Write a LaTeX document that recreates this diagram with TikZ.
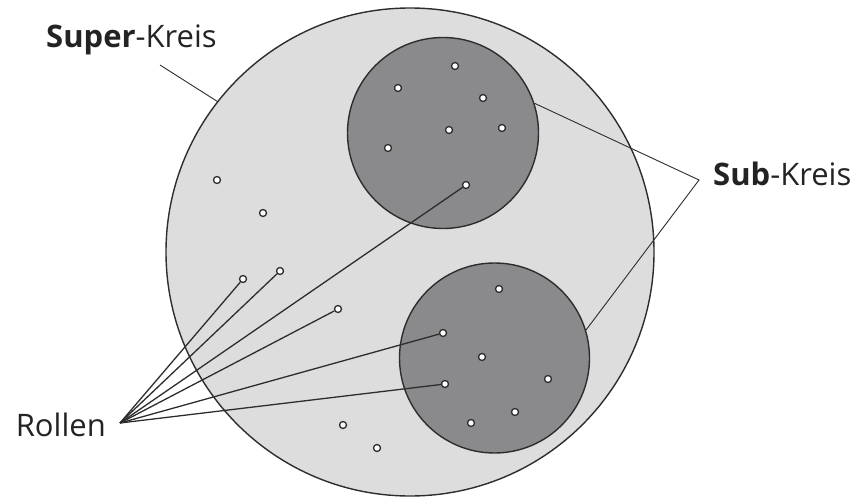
\documentclass[tikz,border=0pt]{standalone}
\usepackage{fontspec}
\setmainfont{Open Sans}
\definecolor{superfill}{RGB}{221,221,221}
\definecolor{subfill}{RGB}{138,138,141}
\definecolor{ink}{RGB}{45,45,45}
\definecolor{txt}{RGB}{35,35,35}
\begin{document}
\begin{tikzpicture}[x=1pt,y=-1pt,
  kreis/.style={circle,draw=ink,line width=1.4pt,inner sep=0pt},
  dot/.style={circle,draw=ink,fill=white,line width=1.3pt,inner sep=0pt,minimum size=7pt},
  leader/.style={draw=ink,line width=1.3pt},
  thinleader/.style={draw=ink,line width=0.9pt},
  lbl/.style={font=\fontsize{31}{36}\selectfont,text=txt,inner sep=0pt}]
\useasboundingbox (0,0) rectangle (858,497);
\node[kreis,fill=superfill,minimum size=488pt] (super) at (410,252) {};
\node[kreis,fill=subfill,minimum size=191pt] (subA) at (443,133) {};
\node[kreis,fill=subfill,minimum size=190pt] (subB) at (494.5,358) {};
% labels
\node[lbl,anchor=base west] (superlbl) at (46,48) {\textbf{Super}-Kreis};
\node[lbl,anchor=base west] (sublbl) at (713,185) {\textbf{Sub}-Kreis};
\node[lbl,anchor=base east] (rollen) at (106,436) {Rollen};
\coordinate (sv) at (160,65);
\coordinate (kv) at (699,180);
\coordinate (rv) at (120,423);
\draw[thinleader] (sv) -- (super.142);
\draw[thinleader] (subA.18) -- (kv) -- (subB.17);
% dots in top sub circle
\node[dot] (a1) at (398,88) {};
\node[dot] (a2) at (455,66) {};
\node[dot] (a3) at (483,98) {};
\node[dot] (a4) at (449,130) {};
\node[dot] (a5) at (502,128) {};
\node[dot] (a6) at (388,148) {};
\node[dot] (a7) at (466,185) {};
% dots in super circle only
\node[dot] (s1) at (217,180) {};
\node[dot] (s2) at (263,213) {};
\node[dot] (s3) at (243,279) {};
\node[dot] (s4) at (280,271) {};
\node[dot] (s5) at (338,309) {};
\node[dot] (s6) at (343,425) {};
\node[dot] (s7) at (377,448) {};
% dots in bottom sub circle
\node[dot] (b1) at (499,289) {};
\node[dot] (b2) at (443,333) {};
\node[dot] (b3) at (482,357) {};
\node[dot] (b4) at (445,384) {};
\node[dot] (b5) at (548,379) {};
\node[dot] (b6) at (515,412) {};
\node[dot] (b7) at (471,423) {};
% Rollen leaders
\foreach \t in {s3,s4,a7,s5,b2,b4}
  \draw[leader] (rv) -- (\t);
\end{tikzpicture}
\end{document}
